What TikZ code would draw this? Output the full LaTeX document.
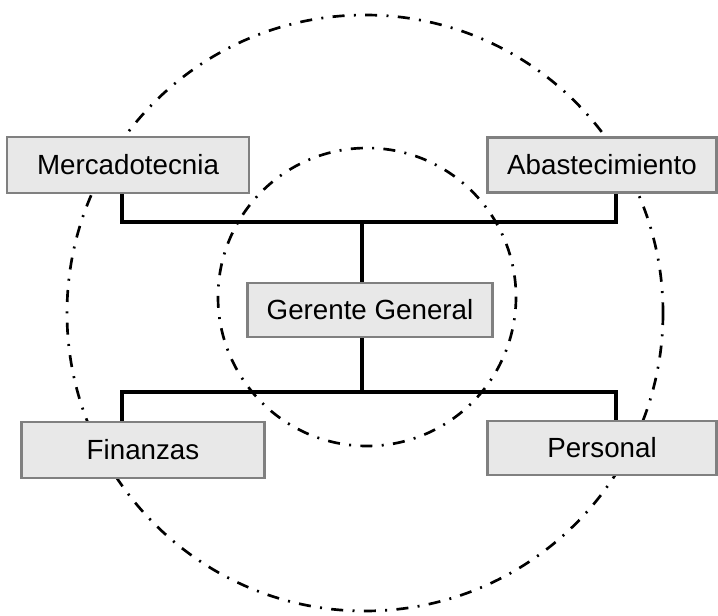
\documentclass[tikz,border=0pt]{standalone}
\usepackage{fontspec}
\setmainfont{Liberation Sans}
\definecolor{borde}{RGB}{128,128,128}
\definecolor{relleno}{RGB}{232,232,232}
\tikzset{
  caja/.style={draw=borde, fill=relleno, line width=1.9pt, inner sep=0pt,
    font=\fontsize{20.8}{25}\selectfont},
  conector/.style={line width=3pt},
  circulo/.style={line width=2pt, dash pattern=on 9pt off 7pt on 1.5pt off 7pt}
}
\begin{document}
\begin{tikzpicture}[x=0.75pt, y=-0.75pt]

    \useasboundingbox (0,0) rectangle (718,616);

    % Círculos punteados
    \draw[circulo] (365,313) circle (298);
    \draw[circulo] (367,297) circle (149);

    % Puntos de apoyo de las líneas
    \coordinate (izq) at (122,0);
    \coordinate (der) at (616,0);
    \coordinate (centro) at (362,0);
    \coordinate (ysup) at (0,222);
    \coordinate (yinf) at (0,392);

    % Cajas
    \node[caja, minimum width=242*0.75pt, minimum height=56*0.75pt] (merc) at (128,165) {Mercadotecnia};
    \node[caja, minimum width=229*0.75pt, minimum height=55*0.75pt] (abast) at (602,165) {Abastecimiento};
    \node[caja, minimum width=245*0.75pt, minimum height=54*0.75pt] (gg) at (370,310) {Gerente General};
    \node[caja, minimum width=243*0.75pt, minimum height=56*0.75pt] (fin) at (143,450) {Finanzas};
    \node[caja, minimum width=229*0.75pt, minimum height=54*0.75pt] (pers) at (602,448) {Personal};

    % Líneas
    \draw[conector] (merc.south -| izq) -- (ysup -| izq) -- (ysup -| der) -- (abast.south -| der);
    \draw[conector] (ysup -| centro) -- (gg.north -| centro);
    \draw[conector] (gg.south -| centro) -- (yinf -| centro);
    \draw[conector] (fin.north -| izq) -- (yinf -| izq) -- (yinf -| der) -- (pers.north -| der);

  \end{tikzpicture}
\end{document}
